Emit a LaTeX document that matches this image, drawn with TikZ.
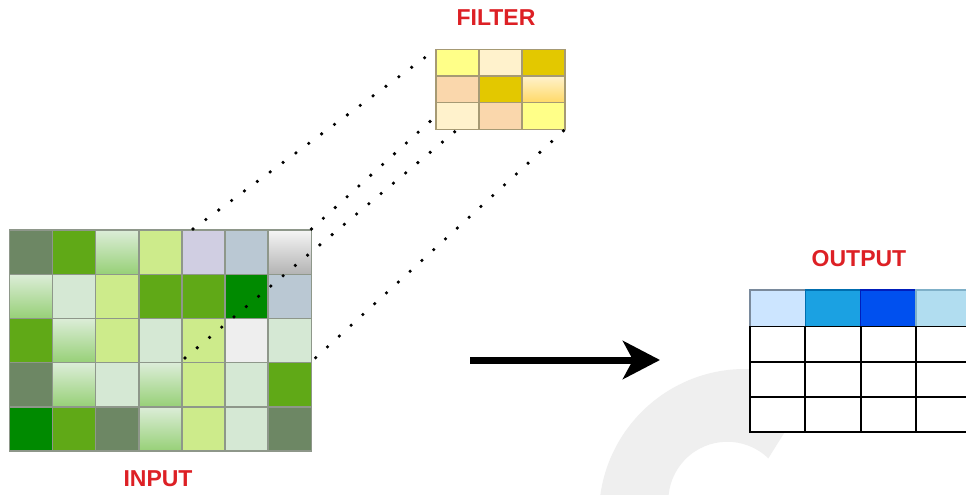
\documentclass[tikz,border=0pt]{standalone}
\usepackage{fontspec}
\setmainfont{Liberation Sans}
\usetikzlibrary{arrows.meta}

% input palette
\definecolor{cDk}{HTML}{6D8764}
\definecolor{cGr}{HTML}{60A917}
\definecolor{cDg}{HTML}{008A00}
\definecolor{cYg}{HTML}{CDEB8B}
\definecolor{cPg}{HTML}{D5E8D4}
\definecolor{cGradTop}{HTML}{DCEDD8}
\definecolor{cGradBot}{HTML}{97D077}
\definecolor{cLav}{HTML}{D0CEE2}
\definecolor{cBg}{HTML}{BAC8D3}
\definecolor{cGy}{HTML}{EEEEEE}
\definecolor{cSilTop}{HTML}{F5F5F5}
\definecolor{cSilBot}{HTML}{B3B3B3}
\definecolor{inStroke}{HTML}{8E978A}
% filter palette
\definecolor{fY}{HTML}{FFFF88}
\definecolor{fCr}{HTML}{FFF2CC}
\definecolor{fGd}{HTML}{E3C800}
\definecolor{fPe}{HTML}{FAD7AC}
\definecolor{fGradBot}{HTML}{FFD966}
\definecolor{fStroke}{HTML}{A69A74}
% output palette
\definecolor{oA}{HTML}{CCE5FF}
\definecolor{oB}{HTML}{1BA1E2}
\definecolor{oC}{HTML}{0050EF}
\definecolor{oD}{HTML}{B1DDF0}
\definecolor{oAs}{HTML}{7A8A9C}
\definecolor{oBs}{HTML}{006EAF}
\definecolor{oCs}{HTML}{001DBC}
\definecolor{oDs}{HTML}{7FB0C8}
% labels and mark
\definecolor{lblRed}{HTML}{DD2025}
\definecolor{markGray}{HTML}{EFEFEF}

\tikzset{
  incell/.style={draw=inStroke, line width=1.4pt, minimum width=43.1pt,
    minimum height=44.2pt, inner sep=0pt, outer sep=0pt},
  fltcell/.style={draw=fStroke, line width=1.3pt, minimum width=43pt,
    minimum height=26.7pt, inner sep=0pt, outer sep=0pt},
  headcell/.style={line width=1.3pt, minimum width=55.3pt,
    minimum height=36.5pt, inner sep=0pt, outer sep=0pt},
  bodycell/.style={draw=black, fill=white, line width=1.8pt, minimum width=55.3pt,
    minimum height=35.2pt, inner sep=0pt, outer sep=0pt},
  kD/.style={fill=cDk}, kG/.style={fill=cGr}, kK/.style={fill=cDg},
  kY/.style={fill=cYg}, kL/.style={fill=cPg}, kP/.style={fill=cLav},
  kB/.style={fill=cBg}, kE/.style={fill=cGy},
  kR/.style={top color=cGradTop, bottom color=cGradBot},
  kW/.style={top color=cSilTop, bottom color=cSilBot},
  lbl/.style={text=lblRed, font=\bfseries\fontsize{23}{25}\selectfont, inner sep=0pt},
  dotline/.style={line width=3.6pt, line cap=round, dash pattern=on 0pt off 16pt},
  bigarrow/.style={line width=7pt, -{Stealth[length=37pt, width=38pt, inset=10pt]}}
}

\newcommand\incell[3]{\node[incell,#3] (in-#1-#2) at ({9.5+43.1*(#2-0.5)},{230+44.2*(#1-0.5)}) {};}
\newcommand\fltcell[3]{\node[fltcell,#3] (flt-#1-#2) at ({436+43*(#2-0.5)},{49.3+26.7*(#1-0.5)}) {};}
\newcommand\headcell[3]{\node[headcell,fill=#2,draw=#3] (out-0-#1) at ({750+55.3*(#1-0.5)},308.25) {};}
\newcommand\bodycell[2]{\node[bodycell] (out-#1-#2) at ({750+55.3*(#2-0.5)},{326.5+35.2*(#1-0.5)}) {};}

\begin{document}
\begin{tikzpicture}[x=1pt, y=-1pt]
  \useasboundingbox (0,0) rectangle (966,495);
  \fill[white] (0,0) rectangle (966,495);

  % faint curved mark behind the output table
  \begin{scope}
    \clip (0,0) rectangle (966,495);
    \fill[markGray] (599,515) arc[start angle=180, end angle=298, radius=146]
      -- (768.3,458.3) arc[start angle=314, end angle=180, radius=59]
      -- (668,520) -- cycle;
  \end{scope}

  % input grid, 5 rows x 7 columns
  \incell{1}{1}{kD}\incell{1}{2}{kG}\incell{1}{3}{kR}\incell{1}{4}{kY}\incell{1}{5}{kP}\incell{1}{6}{kB}\incell{1}{7}{kW}
  \incell{2}{1}{kR}\incell{2}{2}{kL}\incell{2}{3}{kY}\incell{2}{4}{kG}\incell{2}{5}{kG}\incell{2}{6}{kK}\incell{2}{7}{kB}
  \incell{3}{1}{kG}\incell{3}{2}{kR}\incell{3}{3}{kY}\incell{3}{4}{kL}\incell{3}{5}{kY}\incell{3}{6}{kE}\incell{3}{7}{kL}
  \incell{4}{1}{kD}\incell{4}{2}{kR}\incell{4}{3}{kL}\incell{4}{4}{kR}\incell{4}{5}{kY}\incell{4}{6}{kL}\incell{4}{7}{kG}
  \incell{5}{1}{kK}\incell{5}{2}{kG}\incell{5}{3}{kD}\incell{5}{4}{kR}\incell{5}{5}{kY}\incell{5}{6}{kL}\incell{5}{7}{kD}

  % filter, 3 x 3
  \fltcell{1}{1}{fill=fY}\fltcell{1}{2}{fill=fCr}\fltcell{1}{3}{fill=fGd}
  \fltcell{2}{1}{fill=fPe}\fltcell{2}{2}{fill=fGd}\fltcell{2}{3}{top color=fCr, bottom color=fGradBot}
  \fltcell{3}{1}{fill=fCr}\fltcell{3}{2}{fill=fPe}\fltcell{3}{3}{fill=fY}

  % output table: coloured header row and three empty rows
  \begin{scope}
    \clip (0,0) rectangle (966,495);
    \headcell{1}{oA}{oAs}\headcell{2}{oB}{oBs}\headcell{3}{oC}{oCs}\headcell{4}{oD}{oDs}
    \foreach \r in {1,2,3}{\foreach \c in {1,2,3,4}{\bodycell{\r}{\c}}}
  \end{scope}

  % receptive window corners on the input
  \coordinate (winTL) at (193,229);
  \coordinate (winTR) at (311.5,229);
  \coordinate (winBL) at (185,358);
  \coordinate (winBR) at (315.7,357.7);

  % dotted projection lines from the window to the filter
  \draw[dotline] (winTL) -- (flt-1-1.north west);
  \draw[dotline] (winTR) -- (flt-3-1.west);
  \draw[dotline] (winBL) -- (flt-3-1.south);
  \draw[dotline] (winBR) -- (flt-3-3.south east);

  % main arrow
  \coordinate (arrS) at (470,360);
  \coordinate (arrE) at (660,360);
  \draw[bigarrow] (arrS) -- (arrE);

  % captions
  \node[lbl] (lblFilter) at (496,17.5) {FILTER};
  \node[lbl] (lblOutput) at (859,258.5) {OUTPUT};
  \node[lbl] (lblInput) at (158,478.5) {INPUT};
\end{tikzpicture}
\end{document}
